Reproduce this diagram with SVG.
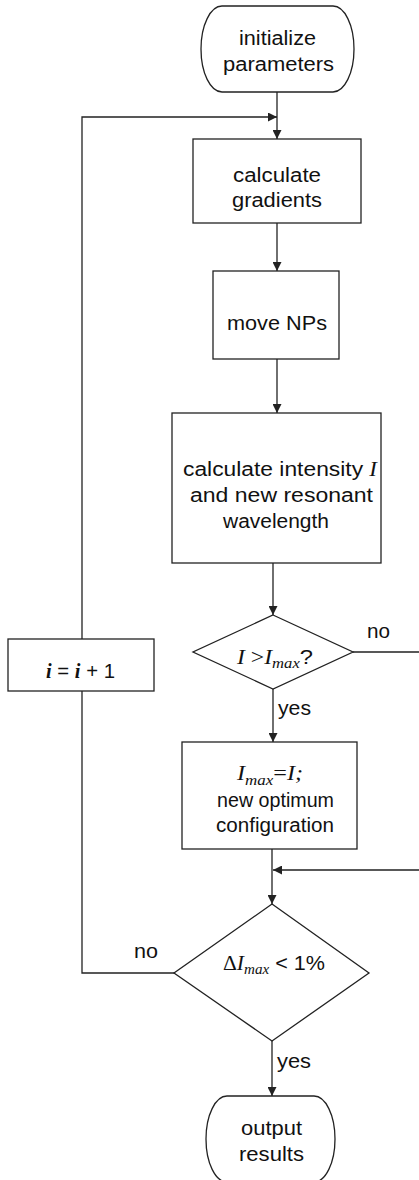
<svg xmlns="http://www.w3.org/2000/svg" width="419" height="1180" viewBox="0 0 419 1180">
<defs>
<style>
.s{fill:#fff;stroke:#222;stroke-width:1.3}
.c{fill:none;stroke:#222;stroke-width:1.3}
.t{font-family:"Liberation Sans",Arial,sans-serif;font-size:20px;fill:#111}
.m{font-family:"Liberation Serif","Times New Roman",serif;font-style:italic}
.r{font-family:"Liberation Serif","Times New Roman",serif}
.sub{font-family:"Liberation Serif","Times New Roman",serif;font-style:italic;font-size:14px}
</style>
<marker id="ah" viewBox="0 0 10 10" refX="10" refY="5" markerWidth="9" markerHeight="9" markerUnits="userSpaceOnUse" orient="auto">
<path d="M0,0 L10,5 L0,10 z" fill="#222"/>
</marker>
</defs>
<rect width="419" height="1180" fill="#fff"/>
<g id="connectors">
<path class="c" d="M277,92 V139" marker-end="url(#ah)"/>
<path class="c" d="M82,639 V117 H277" marker-end="url(#ah)"/>
<path class="c" d="M277,223 V271" marker-end="url(#ah)"/>
<path class="c" d="M277,359 V413" marker-end="url(#ah)"/>
<path class="c" d="M273,563 V615" marker-end="url(#ah)"/>
<path class="c" d="M273,689 V742" marker-end="url(#ah)"/>
<path class="c" d="M353,652 H421 V870 H273" marker-end="url(#ah)"/>
<path class="c" d="M272,849 V904" marker-end="url(#ah)"/>
<path class="c" d="M272,1041 V1096" marker-end="url(#ah)"/>
<path class="c" d="M174,973 H82 V691"/>
<text class="t" x="367" y="638" textLength="23" lengthAdjust="spacingAndGlyphs">no</text>
<text class="t" x="278" y="715" textLength="33" lengthAdjust="spacingAndGlyphs">yes</text>
<text class="t" x="134" y="958" textLength="24" lengthAdjust="spacingAndGlyphs">no</text>
<text class="t" x="277" y="1068" textLength="34" lengthAdjust="spacingAndGlyphs">yes</text>
</g>
<g id="init">
<rect class="s" x="201" y="6" width="153" height="86" rx="21" ry="43"/>
<text class="t" x="239" y="45" textLength="77" lengthAdjust="spacingAndGlyphs">initialize</text>
<text class="t" x="223" y="71" textLength="111" lengthAdjust="spacingAndGlyphs">parameters</text>
</g>
<g id="gradients">
<rect class="s" x="193" y="139" width="168" height="84"/>
<text class="t" x="233" y="182" textLength="88" lengthAdjust="spacingAndGlyphs">calculate</text>
<text class="t" x="232" y="207" textLength="90" lengthAdjust="spacingAndGlyphs">gradients</text>
</g>
<g id="move">
<rect class="s" x="213" y="271" width="126" height="88"/>
<text class="t" x="227" y="330" textLength="100" lengthAdjust="spacingAndGlyphs">move NPs</text>
</g>
<g id="intensity">
<rect class="s" x="172" y="413" width="209" height="150"/>
<text class="t" x="183" y="476" textLength="194" lengthAdjust="spacingAndGlyphs">calculate intensity <tspan class="m">I</tspan></text>
<text class="t" x="190" y="502" textLength="183" lengthAdjust="spacingAndGlyphs">and new resonant</text>
<text class="t" x="223" y="528" textLength="106" lengthAdjust="spacingAndGlyphs">wavelength</text>
</g>
<g id="test1">
<polygon class="s" points="273,615 353,652 273,689 193,652"/>
<text class="t" x="237" y="664" textLength="76" lengthAdjust="spacingAndGlyphs"><tspan class="m">I</tspan><tspan class="r"> &gt;</tspan><tspan class="m">I</tspan><tspan class="sub" dy="4">max</tspan><tspan dy="-4">?</tspan></text>
</g>
<g id="update">
<rect class="s" x="182" y="742" width="175" height="107"/>
<text class="t" x="237" y="780" textLength="66" lengthAdjust="spacingAndGlyphs"><tspan class="m">I</tspan><tspan class="sub" dy="5">max</tspan><tspan class="r" dy="-5">=</tspan><tspan class="m">I;</tspan></text>
<text class="t" x="217" y="807" textLength="117" lengthAdjust="spacingAndGlyphs">new optimum</text>
<text class="t" x="216" y="832" textLength="118" lengthAdjust="spacingAndGlyphs">configuration</text>
</g>
<g id="increment">
<rect class="s" x="8" y="639" width="146" height="52"/>
<text class="t" x="46" y="678" textLength="69" lengthAdjust="spacingAndGlyphs"><tspan class="m" font-weight="bold">i</tspan> = <tspan class="m" font-weight="bold">i</tspan> + 1</text>
</g>
<g id="test2">
<polygon class="s" points="272,904 369,973 272,1041 174,973"/>
<text class="t" x="223" y="970" textLength="102" lengthAdjust="spacingAndGlyphs"><tspan class="r">Δ</tspan><tspan class="m">I</tspan><tspan class="sub" dy="4">max</tspan><tspan dy="-4"> &lt; 1%</tspan></text>
</g>
<g id="output">
<rect class="s" x="206" y="1096" width="129" height="86" rx="21" ry="43"/>
<text class="t" x="241" y="1135" textLength="61" lengthAdjust="spacingAndGlyphs">output</text>
<text class="t" x="239" y="1161" textLength="65" lengthAdjust="spacingAndGlyphs">results</text>
</g>
</svg>
